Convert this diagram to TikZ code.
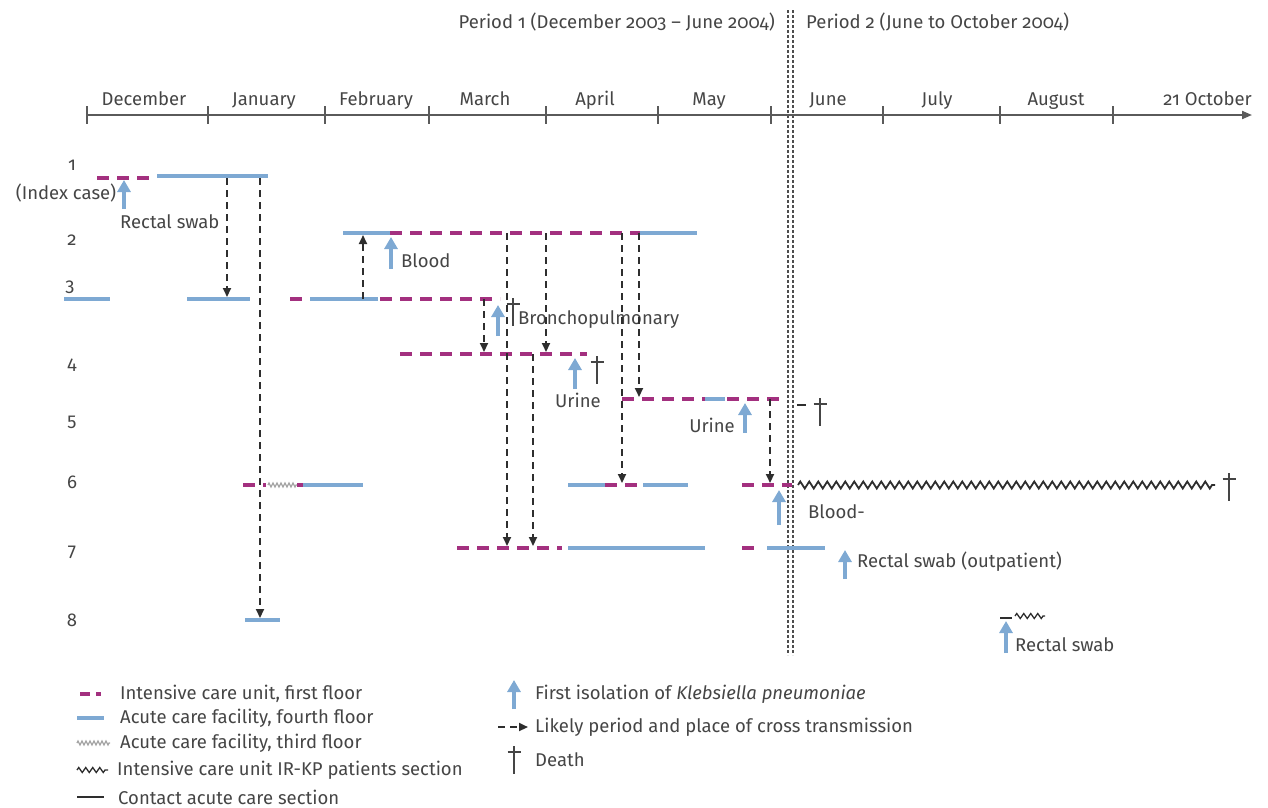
\documentclass[tikz,border=0pt]{standalone}
\usepackage{fontspec}
\setmainfont{Fira Sans}[Numbers=OldStyle]
\usetikzlibrary{arrows.meta,decorations.pathmorphing}
\definecolor{icucol}{HTML}{A3307F}
\definecolor{acfcol}{HTML}{7EA9D3}
\definecolor{txtcol}{HTML}{454545}
\definecolor{arrcol}{HTML}{2E2E2E}
\definecolor{axcol}{HTML}{5A5A5A}
\newcommand\lblfont{\fontsize{18.5}{22}\selectfont}
\tikzset{
  icu/.style={draw=icucol, line width=4pt, dash pattern=on 12pt off 8pt},
  acf/.style={draw=acfcol, line width=3.5pt},
  third/.style={draw=gray!70, line width=1.2pt, decorate, decoration={zigzag, segment length=4pt, amplitude=2pt}},
  irkp/.style={draw=arrcol, line width=1.8pt, decorate, decoration={zigzag, segment length=9pt, amplitude=3.5pt}},
  contact/.style={draw=arrcol, line width=1.8pt},
  trans/.style={draw=arrcol, line width=2pt, dash pattern=on 7pt off 5pt, -{Triangle[length=9pt,width=8pt]}},
  iso/.style={draw=acfcol, line width=4.5pt, -{Triangle[length=12pt,width=13pt]}},
  tx/.style={text=txtcol, font=\lblfont, inner sep=0pt},
  axisline/.style={draw=axcol, line width=2pt},
  divider/.style={draw=arrcol!85, line width=2pt, dash pattern=on 3pt off 2pt},
  deathmark/.pic={\draw[txtcol, line width=1.8pt] (0,-6)--(0,22) (-6.5,0)--(6.5,0);}
}
\begin{document}
\begin{tikzpicture}[x=1pt,y=-1pt]
\useasboundingbox (0,0) rectangle (1268,807);

% periods
\node[tx, anchor=base east] (p1) at (775,28) {Period 1 (December 2003 – June 2004)};
\node[tx, anchor=base west] (p2) at (806,28) {Period 2 (June to October 2004)};
\draw[divider] (788,10) -- (788,655);
\draw[divider] (792.5,10) -- (792.5,655);

% time axis
\coordinate (ax0) at (87,115);
\coordinate (ax1) at (1252,115);
\draw[axisline, -{Triangle[length=10pt,width=8pt]}] (ax0) -- (ax1);
\foreach \x in {87,208,325,429,546,658,771,883,1000,1113}
  \draw[draw=axcol, line width=1.6pt] (\x,106) -- (\x,124);
\node[tx, anchor=base] (mDec) at (144,105) {December};
\node[tx, anchor=base] (mJan) at (264,105) {January};
\node[tx, anchor=base] (mFeb) at (376,105) {February};
\node[tx, anchor=base] (mMar) at (485,105) {March};
\node[tx, anchor=base] (mApr) at (595,105) {April};
\node[tx, anchor=base] (mMay) at (709,105) {May};
\node[tx, anchor=base] (mJun) at (828,105) {June};
\node[tx, anchor=base] (mJul) at (937,105) {July};
\node[tx, anchor=base] (mAug) at (1056,105) {August};
\node[tx, anchor=base east] (mOct) at (1252,105) {21 October};

% row labels
\node[tx] (r1) at (72,165) {1};
\node[tx] (r2) at (72,240) {2};
\node[tx] (r3) at (70,287) {3};
\node[tx] (r4) at (72,365) {4};
\node[tx] (r5) at (72,422) {5};
\node[tx] (r6) at (72,482) {6};
\node[tx] (r7) at (72,552) {7};
\node[tx] (r8) at (72,620) {8};

% ---------- row 1
\draw[icu] (97,178) -- (155,178);
\draw[acf] (157,176) -- (268,176);
\node[tx] (idx) at (66,193) {(Index case)};
\draw[iso] (124,209) -- (124,180);
\node[tx, anchor=west] (rs1) at (120,222) {Rectal swab};

% ---------- row 2
\draw[acf] (343,233) -- (390,233);
\draw[icu] (390,233) -- (640,233);
\draw[acf] (640,233) -- (697,233);
\draw[iso] (391,269) -- (391,237);
\node[tx, anchor=west] (bl2) at (401,261) {Blood};

% ---------- row 3
\draw[acf] (64,299) -- (110,299);
\draw[acf] (187,299) -- (250,299);
\draw[icu] (290,299) -- (303,299);
\draw[acf] (310,299) -- (378,299);
\draw[icu] (380,299) -- (500,299);
\pic at (513,304) {deathmark};
\draw[iso] (498,336) -- (498,305);
\node[tx, anchor=west] (br3) at (518,320) {Bronchopulmonary};

% ---------- row 4
\draw[icu] (400,354) -- (587,354);
\pic at (597,362) {deathmark};
\draw[iso] (575,389) -- (575,358);
\node[tx] (ur4) at (578,400) {Urine};

% ---------- row 5
\draw[icu] (622,399) -- (705,399);
\draw[acf] (705,399) -- (725,399);
\draw[icu] (727,399) -- (782,399);
\draw[contact] (797,405) -- (806,405);
\pic at (820,404) {deathmark};
\draw[iso] (745,433) -- (745,403);
\node[tx, anchor=east] (ur5) at (735,425) {Urine};

% ---------- row 6
\draw[icu] (243,485) -- (266,485);
\draw[third] (268,485) -- (297,485);
\draw[icucol, line width=4pt] (297,485) -- (303,485);
\draw[acf] (303,485) -- (363,485);
\draw[acf] (568,485) -- (605,485);
\draw[icu] (605,485) -- (640,485);
\draw[acf] (643,485) -- (688,485);
\draw[icu] (742,485) -- (792,485);
\draw[irkp] (798,485) -- (1215,485);
\pic at (1229,479) {deathmark};
\draw[iso] (779,525) -- (779,490);
\node[tx, anchor=west] (bl6) at (808,512) {Blood-};

% ---------- row 7
\draw[icu] (457,548) -- (562,548);
\draw[acf] (568,548) -- (705,548);
\draw[icu] (742,548) -- (760,548);
\draw[acf] (767,548) -- (825,548);
\draw[iso] (845,579) -- (845,550);
\node[tx, anchor=west] (rs7) at (857,562) {Rectal swab (outpatient)};

% ---------- row 8
\draw[acf] (245,620) -- (280,620);
\draw[contact] (1000,618) -- (1012,618);
\draw[irkp, line width=1.3pt, decoration={zigzag, segment length=7pt, amplitude=2.5pt}] (1015,616) -- (1045,616);
\draw[iso] (1006,653) -- (1006,621);
\node[tx, anchor=west] (rs8) at (1015,645) {Rectal swab};

% ---------- transmission arrows
\coordinate (a1s) at (227,178); \coordinate (a1e) at (227,297);
\coordinate (a2s) at (260,178); \coordinate (a2e) at (260,618);
\coordinate (a3s) at (363,299); \coordinate (a3e) at (363,235);
\coordinate (a4s) at (484,299); \coordinate (a4e) at (484,352);
\coordinate (a5s) at (507,233); \coordinate (a5e) at (507,546);
\coordinate (a6s) at (546,233); \coordinate (a6e) at (546,352);
\coordinate (a7s) at (533,354); \coordinate (a7e) at (533,546);
\coordinate (a8s) at (622,233); \coordinate (a8e) at (622,483);
\coordinate (a9s) at (639,233); \coordinate (a9e) at (639,397);
\coordinate (a10s) at (770,399); \coordinate (a10e) at (770,483);
\foreach \i in {1,...,10} \draw[trans] (a\i s) -- (a\i e);

% ---------- legend
\draw[icu, dash pattern=on 10pt off 6pt on 5pt off 20pt] (80,694) -- (105,694);
\node[tx, anchor=west] (l1) at (120,694) {Intensive care unit, first floor};
\draw[acf] (77,718) -- (104,718);
\node[tx, anchor=west] (l2) at (120,718) {Acute care facility, fourth floor};
\draw[third] (77,743) -- (110,743);
\node[tx, anchor=west] (l3) at (120,743) {Acute care facility, third floor};
\draw[irkp, line width=1.3pt, decoration={zigzag, segment length=7pt, amplitude=2.5pt}] (77,770) -- (108,770);
\node[tx, anchor=west] (l4) at (117,770) {Intensive care unit IR-KP patients section};
\draw[contact] (77,797) -- (104,797);
\node[tx, anchor=west] (l5) at (118,797) {Contact acute care section};

\draw[iso] (514,709) -- (514,680);
\node[tx, anchor=west] (l6) at (535,694) {First isolation of \textit{Klebsiella pneumoniae}};
\coordinate (lt1) at (498,727); \coordinate (lt2) at (528,727);
\draw[trans] (lt1) -- (lt2);
\node[tx, anchor=west] (l7) at (535,727) {Likely period and place of cross transmission};
\pic at (514,752) {deathmark};
\node[tx, anchor=west] (l8) at (535,760) {Death};
\end{tikzpicture}
\end{document}
